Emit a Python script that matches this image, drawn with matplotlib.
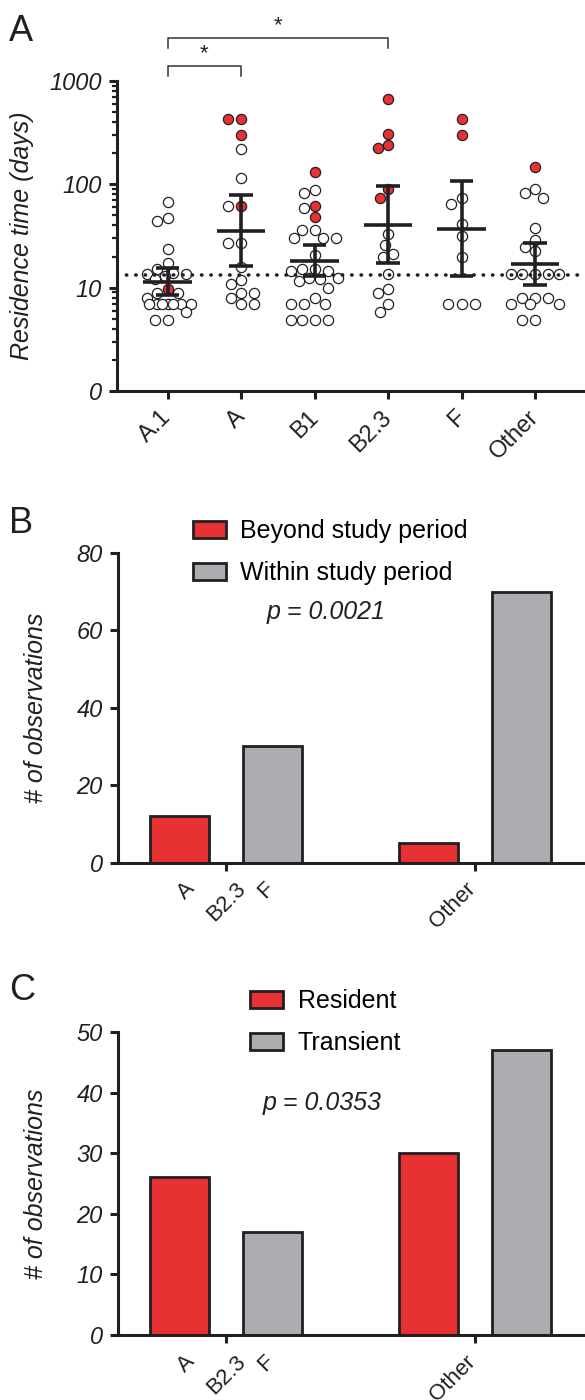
import numpy as np
import matplotlib
matplotlib.use('Agg')
import matplotlib.pyplot as plt
import matplotlib.transforms as mtransforms
from matplotlib.patches import Patch

plt.rcParams['font.family'] = ['Liberation Sans', 'DejaVu Sans']

INK = '#231f20'
RED = '#e83133'
GREY = '#abadb0'

# ---- panel A: residence time per strain (days) ----
strains = ['A.1', 'A', 'B1', 'B2.3', 'F', 'Other']
open_days = [
    [67, 47, 44, 23.5, 17.5, 15, 14, 13.5, 13.5, 13, 12, 8.8, 8.8, 8,
     6.9, 6.9, 6.9, 6.9, 6.9, 6.9, 6.9, 5.8, 4.9, 4.9],
    [221, 115, 62, 27, 27, 15.9, 11.8, 10.8, 8.8, 8.8, 7.9, 6.9, 6.9],
    [89, 82, 59, 36.5, 36, 30.5, 30, 30, 20.5, 15, 15, 14.5, 14.5, 12.5,
     12.3, 12, 11.5, 10, 7.9, 6.9, 6.9, 6.9, 4.9, 4.9, 4.9, 4.9],
    [33, 26, 21.4, 19.9, 13.7, 9.8, 8.8, 6.9, 5.8],
    [74, 64, 41.5, 31.7, 19.9, 6.9, 6.9, 6.9],
    [91, 83, 74, 38, 29, 25, 22.7, 13.5, 13.5, 13.5, 13.5, 13.5, 8, 8, 8,
     6.9, 6.9, 6.9, 4.9, 4.9],
]
red_days = [
    [9.8],
    [425, 425, 297, 62],
    [131, 62, 48],
    [673, 309, 238, 224, 89.5, 74],
    [425, 302],
    [147],
]
geo_mean = [11.3, 35.7, 18.0, 40.8, 37.3, 17.1]
ci_low = [8.5, 16.3, 12.9, 17.4, 12.9, 10.7]
ci_high = [15.5, 78, 25.7, 96, 107, 27.3]
threshold = 13.4
sig_pairs = [(0, 1, '*'), (0, 3, '*')]

# ---- panels B and C: counts per strain group ----
group_names = [['A', 'B2.3', 'F'], ['Other']]
beyond = [12, 5]
within = [30, 70]
resident = [26, 30]
transient = [17, 47]
p_b = 'p = 0.0021'
p_c = 'p = 0.0353'

W, H = 585, 1400
fig = plt.figure(figsize=(W / 100, H / 100), dpi=100)


def px_axes(left, top, right, bottom):
    """Axes from pixel box of the figure (top-left origin)."""
    return fig.add_axes([left / W, 1 - bottom / H, (right - left) / W,
                         (bottom - top) / H])


def style(ax):
    ax.spines[['top', 'right']].set_visible(False)
    for s in ('left', 'bottom'):
        ax.spines[s].set_linewidth(2.2)
        ax.spines[s].set_color(INK)
    ax.tick_params(which='major', width=2.2, length=6, color=INK,
                   labelsize=17, labelcolor=INK, pad=5)
    ax.tick_params(which='minor', width=1.6, length=3.5, color=INK)


def swarm(ax, xc, values, diam, max_off):
    """Greedy beeswarm in pixel space, returns x positions in data units.
    Points are squeezed (allowed to overlap) when a row gets too wide."""
    pts = ax.transData.transform(np.column_stack([np.full(len(values), xc),
                                                  values]))
    x0 = pts[0, 0]
    n_steps = int(max_off / (0.25 * diam))
    cands = [0.0]
    for k in range(1, n_steps + 1):
        cands += [-k * 0.25 * diam, k * 0.25 * diam]
    placed = []
    for y in pts[:, 1]:
        best, best_d = None, -1
        for c in cands:
            d = min([np.hypot(x0 + c - px, y - py) for px, py in placed],
                    default=1e9)
            if d >= 1.02 * diam:
                best = c
                break
            if d > best_d:
                best, best_d = c, d
        placed.append((x0 + best, y))
    back = ax.transData.inverted().transform(np.array(placed))
    return back[:, 0]


# ================= panel A =================
axA = px_axes(117, 81, 585, 391)
style(axA)
axA.set_yscale('log')
axA.set_ylim(1, 1000)
axA.set_xlim(-0.69, 5.68)
axA.set_yticks([1, 10, 100, 1000], ['0', '10', '100', '1000'])
for lab in axA.get_yticklabels():
    lab.set_style('italic')
axA.set_xticks(range(len(strains)), strains, rotation=45, ha='right',
               va='top', fontsize=17)
shift = mtransforms.ScaledTranslation(8 / 100, 0, fig.dpi_scale_trans)
for lab in axA.get_xticklabels():
    lab.set_transform(lab.get_transform() + shift)

diam = 10.5
for i in range(len(strains)):
    vals = list(open_days[i]) + list(red_days[i])
    is_red = np.array([False] * len(open_days[i]) + [True] * len(red_days[i]))
    order = np.argsort(vals)[::-1]
    vals = np.array(vals)[order]
    is_red = is_red[order]
    xs = swarm(axA, i, vals, diam, max_off=24)
    axA.scatter(xs[~is_red], vals[~is_red], s=54, facecolor='white',
                edgecolor=INK, linewidth=0.9, zorder=2, clip_on=False)
    axA.scatter(xs[is_red], vals[is_red], s=54, facecolor=RED,
                edgecolor=INK, linewidth=0.9, zorder=2, clip_on=False)

xpos = np.arange(len(strains))
axA.hlines(geo_mean, xpos - 0.33, xpos + 0.33, color=INK, lw=2.6, zorder=3)
axA.vlines(xpos, ci_low, ci_high, color=INK, lw=2.6, zorder=3)
axA.hlines(ci_low, xpos - 0.16, xpos + 0.16, color=INK, lw=2.6, zorder=3)
axA.hlines(ci_high, xpos - 0.16, xpos + 0.16, color=INK, lw=2.6, zorder=3)
axA.axhline(threshold, color=INK, lw=2.6, ls=(0, (0.1, 2.5)),
            dash_capstyle='round', zorder=4)

tb = mtransforms.blended_transform_factory(axA.transData, axA.transAxes)
for lvl, (a, b, mark) in enumerate(sig_pairs):
    y0 = 1.016 + 0.09 * lvl
    y1 = y0 + 0.034
    axA.plot([a, a, b, b], [y0, y1, y1, y0], color='#333333', lw=1.1,
             transform=tb, clip_on=False)
    axA.text((a + b) / 2, y1 + 0.004, mark, transform=tb, ha='center',
             va='bottom', fontsize=16, color=INK)

fig.text(22 / W, 1 - 236 / H, 'Residence time (days)', rotation=90,
         ha='center', va='center', fontsize=18, style='italic', color=INK)


# ================= panels B and C =================
def bar_panel(top, bottom, ymax, step, red_vals, grey_vals, labels, ptext,
              ptext_xy, leg_xy):
    ax = px_axes(118, top, 585, bottom)
    style(ax)
    x = np.arange(len(group_names))
    ax.bar(x - 0.187, red_vals, width=0.237, color=RED, edgecolor=INK,
           linewidth=2, zorder=2)
    ax.bar(x + 0.187, grey_vals, width=0.237, color=GREY, edgecolor=INK,
           linewidth=2, zorder=2)
    ax.set_xlim(-0.434, 1.444)
    ax.set_ylim(0, ymax)
    ax.set_yticks(np.arange(0, ymax + 1, step))
    for lab in ax.get_yticklabels():
        lab.set_style('italic')
    ax.set_xticks(x, [''] * len(x))

    base = mtransforms.blended_transform_factory(ax.transData, ax.transAxes)
    for xc, names in zip(x, group_names):
        n = len(names)
        for i, name in enumerate(names):
            if n == 1:
                dx, ha = 5, 'right'
            else:
                dx, ha = (i - (n - 1) / 2) * 40, 'center'
            tr = mtransforms.offset_copy(base, fig, x=dx, y=-16, units='dots')
            ax.text(xc, 0, name, transform=tr, rotation=45, ha=ha, va='top',
                    fontsize=16, color=INK)

    handles = [Patch(facecolor=RED, edgecolor=INK, linewidth=2),
               Patch(facecolor=GREY, edgecolor=INK, linewidth=2)]
    ax.legend(handles, labels, loc='upper left',
              bbox_to_anchor=(leg_xy[0] / W, 1 - leg_xy[1] / H),
              bbox_transform=fig.transFigure, frameon=False, borderpad=0,
              borderaxespad=0, handlelength=1.3, handleheight=0.65,
              handletextpad=0.6, labelspacing=0.72, fontsize=18)
    fig.text(ptext_xy[0] / W, 1 - ptext_xy[1] / H, ptext, ha='center',
             va='center', fontsize=18, style='italic', color=INK)
    fig.text(36 / W, 1 - (top + bottom) / 2 / H, '# of observations',
             rotation=90, ha='center', va='center', fontsize=18,
             style='italic', color=INK)
    return ax


bar_panel(553, 862.5, 80, 20, beyond, within,
          ['Beyond study period', 'Within study period'], p_b, (326, 612),
          (193, 519))
bar_panel(1032, 1335, 50, 10, resident, transient,
          ['Resident', 'Transient'], p_c, (322, 1103), (250, 989))

for letter, ytop in (('A', 14), ('B', 506), ('C', 973)):
    fig.text(9 / W, 1 - ytop / H, letter, ha='left', va='top', fontsize=26,
             color=INK)

fig.savefig('out.png', dpi=100)
